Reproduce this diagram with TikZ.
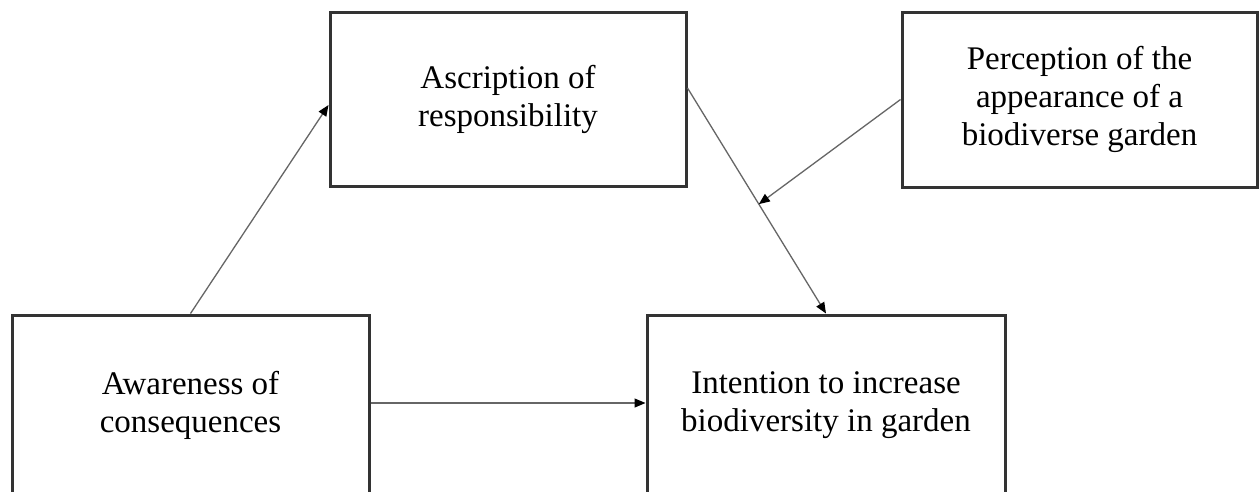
\documentclass[tikz,border=0pt]{standalone}
\usepackage{fontspec}
\setmainfont{Liberation Serif}
\usetikzlibrary{arrows.meta,calc}
\definecolor{boxline}{HTML}{333333}
\definecolor{arrline}{HTML}{666666}
\begin{document}
\begin{tikzpicture}[x=1pt,y=-1pt,
  box/.style={draw=boxline,line width=3pt,rectangle,align=center,
    font=\fontsize{33}{38}\selectfont,inner sep=0pt},
  conn/.style={draw=arrline,line width=1.3pt,
    -{Triangle[length=11pt,width=9pt,color=black]}}]
\useasboundingbox[fill=white] (0,0) rectangle (1259,491);
\node[box,minimum width=356pt,minimum height=174pt] (asc) at (508,99)
  {Ascription of\\responsibility};
\node[box,minimum width=355pt,minimum height=175pt] (per) at (1079.5,99.5)
  {Perception of the\\appearance of a\\biodiverse garden};
\node[box,minimum width=357pt,minimum height=181pt] (aw) at (190.5,405.5)
  {Awareness of\\consequences};
\node[box,minimum width=358pt,minimum height=181pt] (int) at (826,405.5)
  {Intention to increase\\biodiversity in garden};
\coordinate (ascout) at ([yshift=11pt]asc.east);
\draw[conn] (aw.north) -- ([yshift=-6pt]asc.west);
\draw[conn] (ascout) -- (int.north);
\coordinate (mod) at ($(ascout)!0.515!(int.north)$);
\draw[conn] (per.west) -- (mod);
\draw[conn] (aw.east |- 0,403) -- (int.west |- 0,403);
\end{tikzpicture}
\end{document}
